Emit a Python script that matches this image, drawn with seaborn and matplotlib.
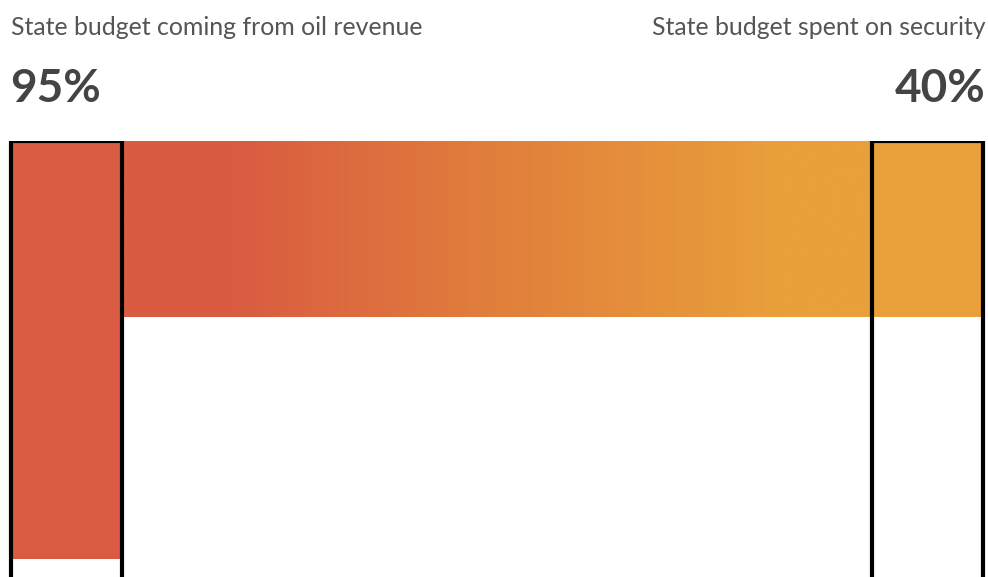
import numpy as np
import pandas as pd
import matplotlib
matplotlib.use("Agg")
import matplotlib.pyplot as plt
from matplotlib.colors import LinearSegmentedColormap
import seaborn as sns

# ---- data ----
categories = ["State budget coming from oil revenue", "State budget spent on security"]
values = [95, 40]
value_labels = ["95%", "40%"]
totals = [100, 100]
fill_colors = ["#D95B41", "#E9A03A"]

sns.set_theme(style="white")
plt.rcParams["font.family"] = ["Lato", "DejaVu Sans"]

W, H = 988, 577
fig = plt.figure(figsize=(W / 100, H / 100), dpi=100)
fig.patch.set_facecolor("white")

# axes: y=0 at top of boxes (141 px), y=100 at 581 px
top_px, bot_px = 141, 581
ax = fig.add_axes([0, (H - bot_px) / H, 1, (bot_px - top_px) / H])
ax.set_facecolor("none")

df = pd.DataFrame({"cat": categories, "val": values, "tot": totals})
bw = 0.1285

# filled bars
sns.barplot(data=df, x="cat", y="val", hue="cat", palette=fill_colors,
            width=bw, legend=False, ax=ax, linewidth=0, saturation=1)
n_fill = len(ax.patches)

# outline boxes (full 100%)
sns.barplot(data=df, x="cat", y="tot", color="white", width=bw, ax=ax,
            saturation=1)
for p in ax.patches[n_fill:]:
    p.set_facecolor("none")
    p.set_edgecolor("black")
    p.set_linewidth(3.0)
    p.set_zorder(5)

# gradient band connecting the two bars (height = smaller value)
cmap = LinearSegmentedColormap.from_list(
    "band", [(0.0, fill_colors[0]), (0.14, fill_colors[0]),
             (0.5, "#E17F3C"), (0.88, fill_colors[1]), (1.0, fill_colors[1])])
grad = np.linspace(0, 1, 512).reshape(1, -1)
x0 = 0 + bw / 2
x1 = 1 - bw / 2
ax.imshow(grad, cmap=cmap, aspect="auto", extent=[x0, x1, min(values), 0],
          zorder=1, interpolation="bilinear")

# scales
px_per_unit = 861.0
ax.set_xlim(-66.5 / px_per_unit, 1 + (W - 927.5) / px_per_unit)
ax.set_ylim(100, 0)
ax.set_axis_off()

# texts
fig.text(11 / W, 1 - 35 / H, categories[0], ha="left", va="baseline",
         fontsize=17.9, color="#555555")
fig.text(986 / W, 1 - 35 / H, categories[1], ha="right", va="baseline",
         fontsize=17.9, color="#555555")
fig.text(10 / W, 1 - 102 / H, value_labels[0], ha="left", va="baseline",
         fontsize=33, fontweight="bold", color="#444444")
fig.text(986 / W, 1 - 102 / H, value_labels[1], ha="right", va="baseline",
         fontsize=33, fontweight="bold", color="#444444")

fig.savefig("out.png", dpi=100, facecolor="white")
